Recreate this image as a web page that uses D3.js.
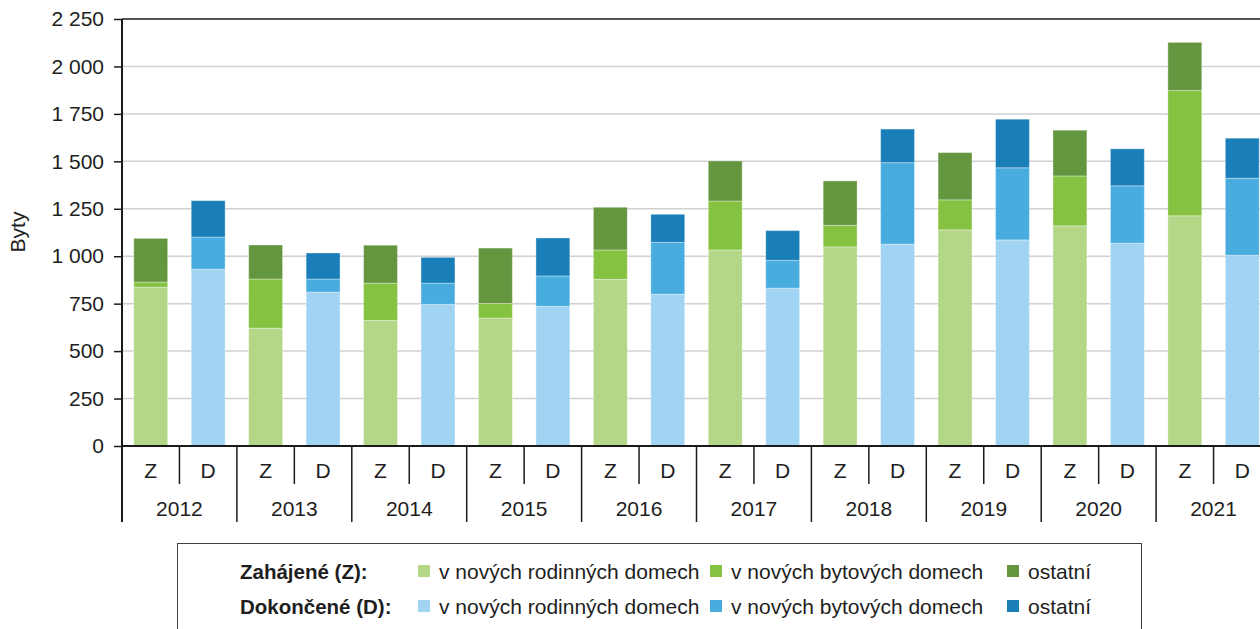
<!DOCTYPE html>
<html>
<head>
<meta charset="utf-8">
<script src="https://cdn.jsdelivr.net/npm/d3@7"></script>
<style>
  html, body { margin: 0; padding: 0; background: #fff; }
  svg { display: block; font-family: "Liberation Sans", Arial, sans-serif; overflow: hidden; }
</style>
</head>
<body>
<svg id="chart" width="1260" height="629"></svg>
<script>
const years = ["2012", "2013", "2014", "2015", "2016", "2017", "2018", "2019", "2020", "2021"];
const kinds = ["Z", "D"];
const yTicks = [0, 250, 500, 750, 1000, 1250, 1500, 1750, 2000, 2250];

// Zahájené (started)
const zRodinne = [837, 621, 662, 674, 878, 1033, 1049, 1139, 1160, 1213];
const zBytove  = [27, 259, 196, 77, 155, 258, 114, 158, 263, 660];
const zOstatni = [230, 179, 200, 292, 225, 211, 234, 249, 241, 254];

// Dokončené (completed)
const dRodinne = [932, 811, 746, 736, 800, 832, 1064, 1086, 1069, 1005];
const dBytove  = [169, 69, 112, 160, 273, 146, 429, 380, 302, 406];
const dOstatni = [192, 137, 136, 200, 148, 157, 177, 256, 195, 211];

const legendRows = ["Zahájené (Z):", "Dokončené (D):"];
const legendItems = ["v nových rodinných domech", "v nových bytových domech", "ostatní"];

const colors = {
  Z: ["#b3d687", "#85c242", "#64963f"],
  D: ["#a0d4f2", "#48acdf", "#1a7fb8"]
};

const svg = d3.select("#chart");
const plotLeft = 122, plotRight = 1271, plotTop = 19, plotBottom = 446;
const fontSize = 21;

const x = d3.scaleBand().domain(years).range([plotLeft, plotRight]);
const xSub = d3.scaleBand().domain(kinds).range([0, x.bandwidth()]).paddingInner(0.41).paddingOuter(0.205);
const y = d3.scaleLinear().domain([0, 2250]).range([plotBottom, plotTop]);

const fmt = d3.formatLocale({ decimal: ",", thousands: " ", grouping: [3], currency: ["", " Kč"] }).format(",d");

// gridlines
svg.append("g")
  .selectAll("line")
  .data(yTicks.filter(d => d > 0 && d < 2250))
  .join("line")
  .attr("x1", plotLeft).attr("x2", plotRight)
  .attr("y1", d => y(d)).attr("y2", d => y(d))
  .attr("stroke", "#d0d0d0")
  .attr("stroke-width", 1.5);

// stacked bars
const rows = [];
years.forEach((yr, i) => {
  rows.push({ year: yr, kind: "Z", vals: [zRodinne[i], zBytove[i], zOstatni[i]] });
  rows.push({ year: yr, kind: "D", vals: [dRodinne[i], dBytove[i], dOstatni[i]] });
});

const bars = svg.append("g");
rows.forEach(r => {
  let base = 0;
  r.vals.forEach((v, k) => {
    bars.append("rect")
      .attr("x", x(r.year) + xSub(r.kind))
      .attr("width", xSub.bandwidth())
      .attr("y", y(base + v))
      .attr("height", y(base) - y(base + v))
      .attr("fill", colors[r.kind][k])
      .attr("stroke", "#ffffff")
      .attr("stroke-opacity", 0.35)
      .attr("stroke-width", 1);
    base += v;
  });
});

// top border
svg.append("line")
  .attr("x1", plotLeft).attr("x2", plotRight)
  .attr("y1", plotTop).attr("y2", plotTop)
  .attr("stroke", "#1a1a1a").attr("stroke-width", 1.5);

// y axis
const yAxis = svg.append("g")
  .attr("transform", `translate(${plotLeft},0)`)
  .call(d3.axisLeft(y).tickValues(yTicks).tickFormat(fmt).tickSize(8).tickPadding(10));
yAxis.select(".domain").remove();
yAxis.selectAll(".tick line").attr("stroke", "#1a1a1a").attr("stroke-width", 1.5);
yAxis.selectAll(".tick text").attr("font-size", fontSize).attr("fill", "#1e1e1e");

svg.append("line")
  .attr("x1", plotLeft).attr("x2", plotLeft)
  .attr("y1", plotTop).attr("y2", 522)
  .attr("stroke", "#1a1a1a").attr("stroke-width", 2);

svg.append("text")
  .attr("transform", "translate(25,232) rotate(-90)")
  .attr("text-anchor", "middle")
  .attr("font-size", fontSize)
  .attr("fill", "#1e1e1e")
  .text("Byty");

// x axis
svg.append("line")
  .attr("x1", plotLeft).attr("x2", plotRight)
  .attr("y1", plotBottom).attr("y2", plotBottom)
  .attr("stroke", "#1a1a1a").attr("stroke-width", 2);

const xg = svg.append("g");
years.forEach(yr => {
  const x0 = x(yr);
  // year separator (right edge of band)
  xg.append("line")
    .attr("x1", x0 + x.bandwidth()).attr("x2", x0 + x.bandwidth())
    .attr("y1", plotBottom).attr("y2", 522)
    .attr("stroke", "#1a1a1a").attr("stroke-width", 1.5);
  // Z/D separator
  xg.append("line")
    .attr("x1", x0 + x.bandwidth() / 2).attr("x2", x0 + x.bandwidth() / 2)
    .attr("y1", plotBottom).attr("y2", 484)
    .attr("stroke", "#1a1a1a").attr("stroke-width", 1.5);
  kinds.forEach(k => {
    xg.append("text")
      .attr("x", x0 + xSub(k) + xSub.bandwidth() / 2)
      .attr("y", 478)
      .attr("text-anchor", "middle")
      .attr("font-size", fontSize)
      .attr("fill", "#1e1e1e")
      .text(k);
  });
  xg.append("text")
    .attr("x", x0 + x.bandwidth() / 2)
    .attr("y", 516)
    .attr("text-anchor", "middle")
    .attr("font-size", fontSize)
    .attr("fill", "#1e1e1e")
    .text(yr);
});

// legend
const lg = svg.append("g");
lg.append("rect")
  .attr("x", 177.5).attr("y", 543.5)
  .attr("width", 964).attr("height", 120)
  .attr("fill", "#fff")
  .attr("stroke", "#404040").attr("stroke-width", 1);

const itemX = [418, 710, 1007];
legendRows.forEach((label, r) => {
  const yy = 579 + r * 35;
  lg.append("text")
    .attr("x", 240).attr("y", yy)
    .attr("font-size", 20.5).attr("font-weight", "bold")
    .attr("fill", "#1e1e1e")
    .text(label);
  legendItems.forEach((it, j) => {
    lg.append("rect")
      .attr("x", itemX[j]).attr("y", yy - 14)
      .attr("width", 12).attr("height", 12)
      .attr("fill", colors[kinds[r]][j]);
    lg.append("text")
      .attr("x", itemX[j] + 21).attr("y", yy)
      .attr("font-size", fontSize)
      .attr("fill", "#1e1e1e")
      .text(it);
  });
});
</script>
</body>
</html>
